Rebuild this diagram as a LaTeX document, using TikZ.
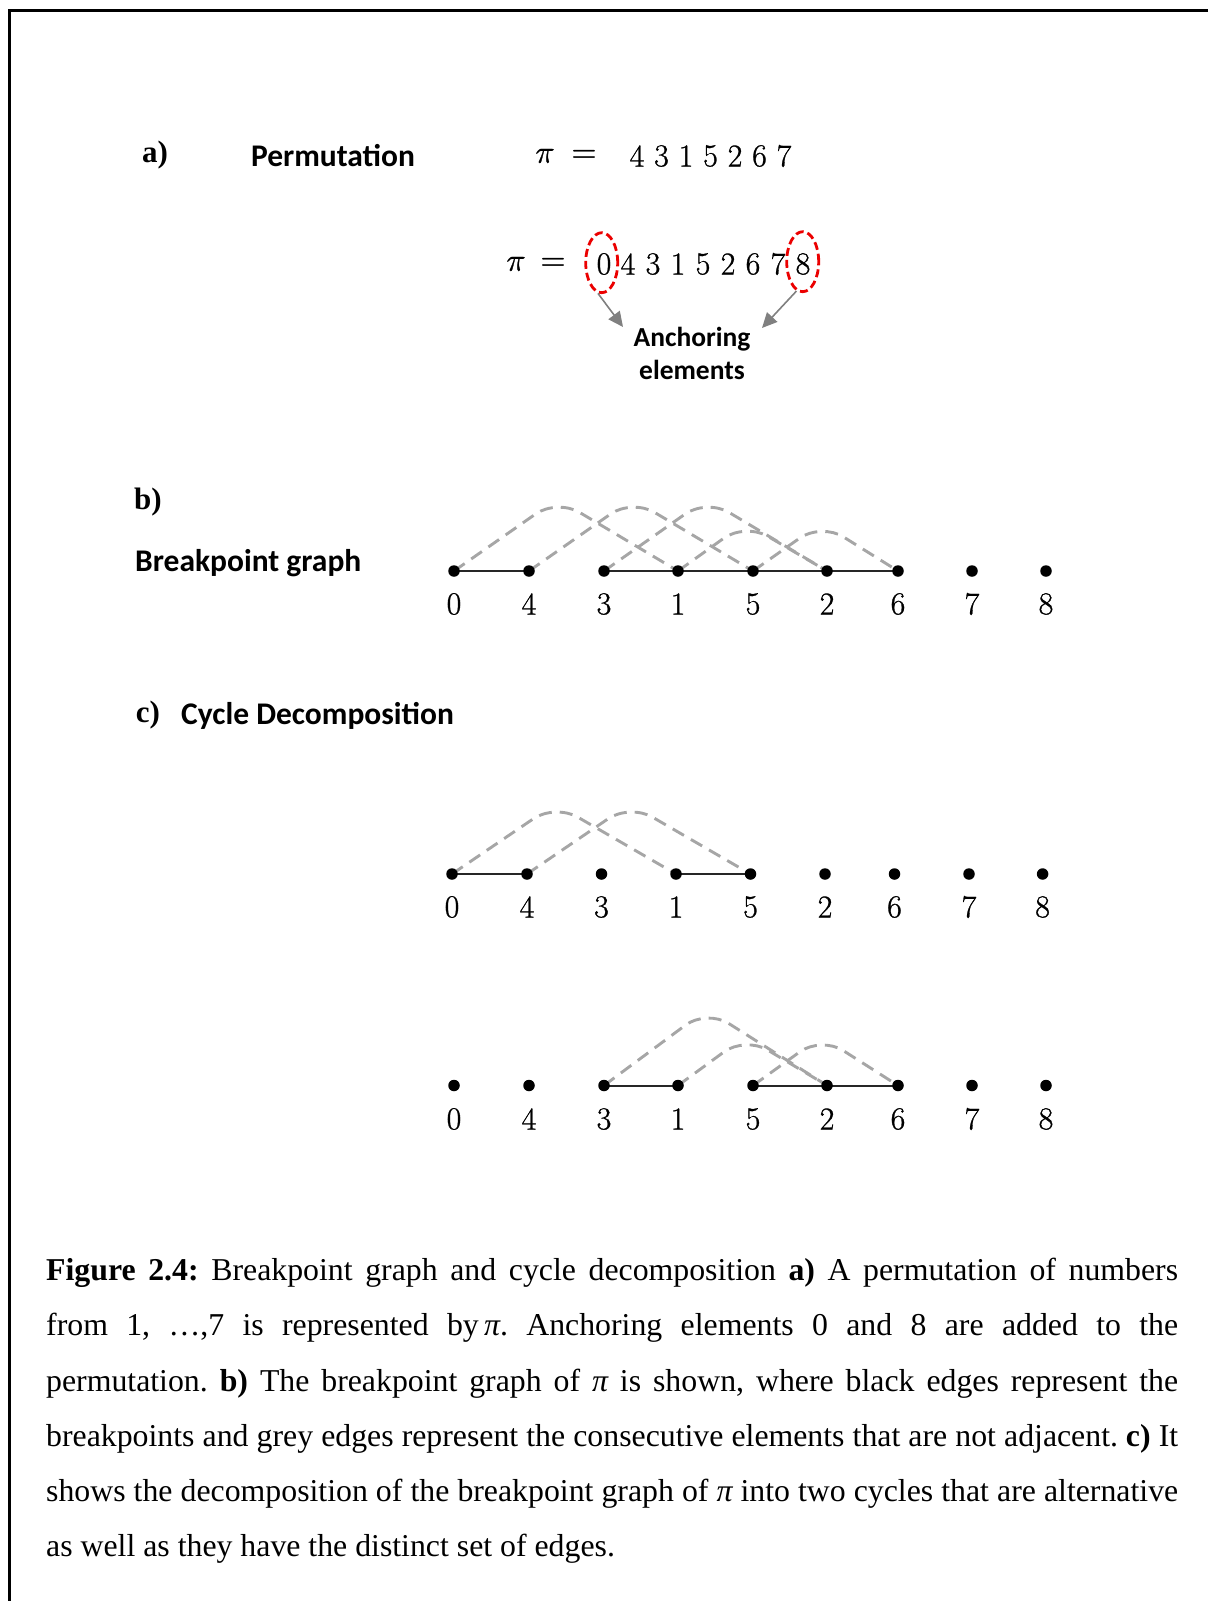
\documentclass[tikz,border=0pt]{standalone}
\usepackage{fontspec}
\usepackage{unicode-math}
\setmathfont{Latin Modern Math}[FakeBold=0.8]
\newfontfamily\capfont{Liberation Serif}
\newfontfamily\calfont{Carlito}
\newfontfamily\digfont{Latin Modern Roman}[FakeBold=0.9]
\usetikzlibrary{calc,backgrounds,arrows.meta,shapes.geometric}
\definecolor{arcgray}{RGB}{166,166,166}
\definecolor{arrgray}{RGB}{128,128,128}
\definecolor{ancred}{RGB}{235,0,0}
\newcommand\bpArc[4]{\draw[arcst] (#1.center) -- ($(#1)!#3!(#2)+(0,-#4)$) -- (#2.center);}
\frenchspacing
\begin{document}
\begin{tikzpicture}[x=1pt,y=-1pt,
  nd/.style={circle,fill=black,inner sep=0pt,minimum size=11.5pt},
  lab/.style={inner sep=0pt,font=\digfont\fontsize{32}{32}\selectfont},
  blk/.style={draw=black!85,line width=2pt},
  arcst/.style={draw=arcgray,line width=2.9pt,dash pattern=on 13pt off 8pt,rounded corners=26pt},
  headb/.style={inner sep=0pt,font=\capfont\bfseries\fontsize{31}{31}\selectfont},
  heads/.style={inner sep=0pt,font=\calfont\bfseries\fontsize{31.5}{31.5}\selectfont},
  anc/.style={ellipse,draw=ancred,line width=2.8pt,dash pattern=on 8pt off 4pt,minimum width=32pt,minimum height=60pt,inner sep=0pt},
  garr/.style={draw=arrgray,line width=1.6pt,-{Triangle[length=15pt,width=14pt]},fill=arrgray}]
\useasboundingbox (0,0) rectangle (1208,1601);
% frame
\coordinate (fr1) at (1208,10);
\coordinate (fr2) at (9.5,10);
\coordinate (fr3) at (9.5,1601);
\draw[line width=3pt] (fr1) -- (fr2) -- (fr3);

% a)
\node[headb] (la) at (155,155) {a)};
\node[heads] (perm) at (333,156) {Permutation};
\node[lab] (pi1) at (545,156) {$\pi$};
\node[lab] (eq1) at (584,156) {$=$};
\foreach \v [count=\i from 0] in {4,3,1,5,2,6,7}
  \node[lab] (s\i) at ({637+24.5*\i},156) {\v};

\node[lab] (pi2) at (516,264) {$\pi$};
\node[lab] (eq2) at (553,264) {$=$};
\node[lab] (t0) at (604,264) {0};
\foreach \v [count=\i from 1] in {4,3,1,5,2,6,7,8}
  \node[lab] (t\i) at ({603+25*\i},264) {\v};
\node[anc] (e0) at (601.7,262.7) {};
\node[anc] (e8) at (802.7,261.7) {};
\node[inner sep=0pt,align=center,font=\calfont\bfseries\fontsize{27.5}{33}\selectfont] (anch) at (692,353.5) {Anchoring\\elements};
\coordinate (h0) at (623,327);
\coordinate (h8) at (762,328);
\draw[garr] (e0.263) -- (h0);
\draw[garr] (e8.258) -- (h8);

% b)
\node[headb] (lb) at (148,502) {b)};
\node[heads,anchor=west] (bg) at (135,563) {Breakpoint graph};
\foreach \v/\x [count=\i from 0] in {0/454,4/529,3/604,1/678,5/753,2/827,6/898,7/972,8/1046}{
  \node[nd] (b\i) at (\x,571) {};
  \node[lab] (bl\i) at (\x,604) {\v};
}
\begin{scope}[on background layer]
\draw[blk] (b0.center) -- (b1.center);
\draw[blk] (b2.center) -- (b3.center);
\draw[blk] (b3.center) -- (b4.center);
\draw[blk] (b4.center) -- (b5.center);
\draw[blk] (b5.center) -- (b6.center);
\bpArc{b0}{b3}{0.46}{72}
\bpArc{b1}{b4}{0.46}{72}
\bpArc{b2}{b5}{0.46}{72}
\bpArc{b3}{b5}{0.45}{48}
\bpArc{b4}{b6}{0.47}{48}
\end{scope}

% c)
\node[headb] (lc) at (148,715) {c)};
\node[heads,anchor=west] (cd) at (181,716) {Cycle Decomposition};
\foreach \v/\x [count=\i from 0] in {0/452,4/527,3/601.5,1/676,5/750.5,2/825,6/894.5,7/969,8/1042.6}{
  \node[nd] (c\i) at (\x,874) {};
  \node[lab] (cl\i) at (\x,907) {\v};
}
\begin{scope}[on background layer]
\draw[blk] (c0.center) -- (c1.center);
\draw[blk] (c3.center) -- (c4.center);
\bpArc{c0}{c3}{0.46}{70}
\bpArc{c1}{c4}{0.46}{70}
\end{scope}

\foreach \v/\x [count=\i from 0] in {0/454,4/529,3/604,1/678,5/753,2/827,6/898,7/972,8/1046}{
  \node[nd] (d\i) at (\x,1085.5) {};
  \node[lab] (dl\i) at (\x,1119) {\v};
}
\begin{scope}[on background layer]
\draw[blk] (d2.center) -- (d3.center);
\draw[blk] (d4.center) -- (d5.center);
\draw[blk] (d5.center) -- (d6.center);
\bpArc{d2}{d5}{0.46}{76}
\bpArc{d3}{d5}{0.45}{49}
\bpArc{d4}{d6}{0.47}{49}
\end{scope}

% caption
\node[anchor=north west,inner sep=0pt,align=left,font=\capfont\fontsize{31.8}{55.2}\selectfont] (cap) at (46,1258) {%
\makebox[1132pt][s]{\textbf{Figure 2.4:} Breakpoint graph and cycle decomposition \textbf{a)} A permutation of numbers}\\
\makebox[1132pt][s]{from 1, …,7 is represented by\,{\itshape π}. Anchoring elements 0 and 8 are added to the}\\
\makebox[1132pt][s]{permutation. \textbf{b)} The breakpoint graph of {\itshape π} is shown, where black edges represent the}\\
\makebox[1132pt][s]{breakpoints and grey edges represent the consecutive elements that are not adjacent. \textbf{c)} It}\\
\makebox[1132pt][s]{shows the decomposition of the breakpoint graph of {\itshape π} into two cycles that are alternative}\\
as well as they have the distinct set of edges.};
\end{tikzpicture}
\end{document}
